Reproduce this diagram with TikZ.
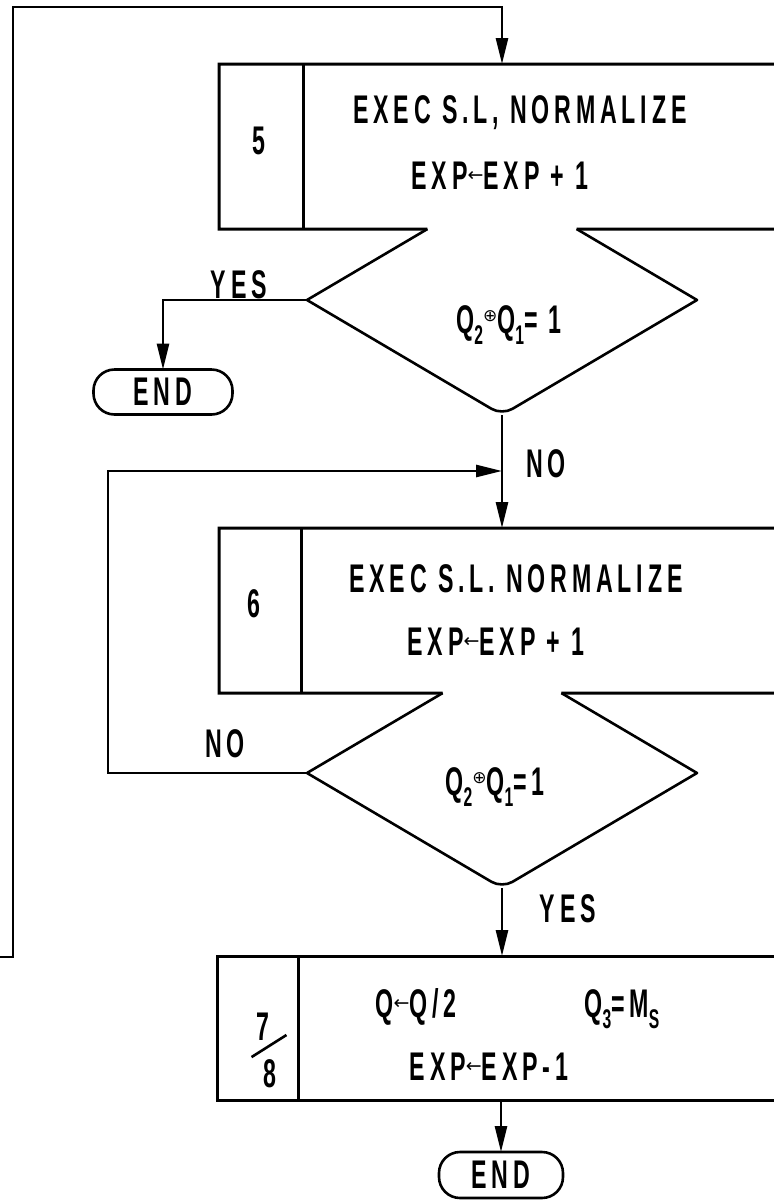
\documentclass[tikz,border=0pt]{standalone}
\usepackage{fontspec}
\setmainfont[FakeStretch=0.58,LetterSpace=12,UprightFont=* Bold]{Liberation Sans}
\newfontfamily\symfont{DejaVu Sans}
\usetikzlibrary{shapes.geometric,arrows.meta}
\newcommand\lar{\raisebox{8pt}{\symfont\fontsize{19}{19}\selectfont ←}}
\newcommand\oplusmark{\raisebox{12pt}{\symfont\fontsize{17}{17}\selectfont ⊕}}
\newcommand\subs[1]{\raisebox{-11pt}{\fontsize{27}{27}\selectfont #1}}
\tikzset{
  every node/.style={inner sep=0pt, outer sep=0pt},
  lbl/.style={font=\fontsize{40}{44}\selectfont, anchor=base},
  conn/.style={line width=2.6pt, -{Triangle[length=26pt,width=12pt]}},
  edgeline/.style={line width=2.6pt, line join=round},
  boxline/.style={line width=3pt},
  procbox/.style={rectangle, anchor=north west, minimum width=590pt, minimum height=165pt},
  decision/.style={diamond, minimum width=390pt, minimum height=230pt},
  terminal/.style={draw, line width=2.6pt, rectangle, rounded corners=21pt, minimum height=45pt, font=\fontsize{40}{44}\selectfont}
}
\begin{document}
\begin{tikzpicture}[x=1pt,y=-1pt]
\useasboundingbox (0,0) rectangle (774,1203);
\clip (0,0) rectangle (774,1203);

% ---- box 5 and first decision
\node[procbox] (b5) at (219,64) {};
\node[decision] (d1) at (502,300) {};
\path (intersection of d1.west--d1.north and b5.south west--b5.south east) coordinate (g1l);
\path (intersection of d1.east--d1.north and b5.south west--b5.south east) coordinate (g1r);
\draw[boxline] (g1l) -- (b5.south west) -- (b5.north west) -- (b5.north east);
\draw[boxline] (g1r) -- (b5.south east);
\draw[boxline] ([xshift=84pt]b5.north west) -- ([xshift=84pt]b5.south west);
\draw[edgeline] (g1l) -- (d1.west) [rounded corners=12pt] -- (d1.south) [sharp corners] -- (d1.east) [rounded corners=12pt] -- (g1r);

\node[lbl] (n5) at (259,154) {5};
\node[lbl] (t5a) at (520,123) {EXEC S.L, NORMALIZE};
\node[lbl] (t5b) at (500,189) {EXP\lar EXP + 1};
\node[lbl] (c1) at (509,333) {Q\subs{2}\oplusmark Q\subs{1}= 1};

\node[terminal, minimum width=139pt] (e1) at (163,392) {END};
\node[lbl] (y1) at (239,298) {YES};
\draw[conn] (d1.west) -| (e1.north);

% ---- outer loop into box 5
\coordinate (r0) at (0,957);
\draw[conn] (r0) -- (13,957) -- (13,7) -| (d1.north |- b5.north);

% ---- box 6 and second decision
\node[procbox] (b6) at (219,528) {};
\node[decision] (d2) at (502,773) {};
\path (intersection of d2.west--d2.north and b6.south west--b6.south east) coordinate (g2l);
\path (intersection of d2.east--d2.north and b6.south west--b6.south east) coordinate (g2r);
\draw[boxline] (g2l) -- (b6.south west) -- (b6.north west) -- (b6.north east);
\draw[boxline] (g2r) -- (b6.south east);
\draw[boxline] ([xshift=82pt]b6.north west) -- ([xshift=82pt]b6.south west);
\draw[edgeline] (g2l) -- (d2.west) [rounded corners=12pt] -- (d2.south) [sharp corners] -- (d2.east) [rounded corners=12pt] -- (g2r);

\draw[conn] (d1.south) -- (d1.south |- b6.north);
\node[lbl] (no1) at (546,477) {NO};
\node[lbl] (n6) at (254,617) {6};
\node[lbl] (t6a) at (516,592) {EXEC S.L. NORMALIZE};
\node[lbl] (t6b) at (496,655) {EXP\lar EXP + 1};
\node[lbl] (c2) at (495,795) {Q\subs{2}\oplusmark Q\subs{1}=1};
\node[lbl] (no2) at (225,757) {NO};
\coordinate (j1) at (502,471);
\draw[conn] (d2.west) -| (108,471) -- (j1);

% ---- box 7/8
\node[procbox, minimum height=144pt] (b7) at (217,956) {};
\draw[boxline] (b7.north east) -- (b7.north west) -- (b7.south west) -- (b7.south east);
\draw[boxline] ([xshift=81pt]b7.north west) -- ([xshift=81pt]b7.south west);
\draw[conn] (d2.south) -- (d2.south |- b7.north);
\node[lbl] (y2) at (568,922) {YES};
\node[lbl] (f7) at (263,1040) {7};
\node[lbl] (f8) at (270,1087) {8};
\draw[edgeline] ([xshift=-12pt,yshift=2pt]f8.north west) -- ([xshift=17pt,yshift=5pt]f7.south east);
\node[lbl] (t7a) at (416,1017) {Q\lar Q/2};
\node[lbl] (t7b) at (622,1017) {Q\subs{3}=M\subs{S}};
\node[lbl] (t7c) at (489,1080) {EXP\lar EXP-1};
\node[terminal, minimum width=124pt, minimum height=46pt] (e2) at (501,1175) {END};
\draw[conn] (e2.north |- b7.south) -- (e2.north);
\end{tikzpicture}
\end{document}
